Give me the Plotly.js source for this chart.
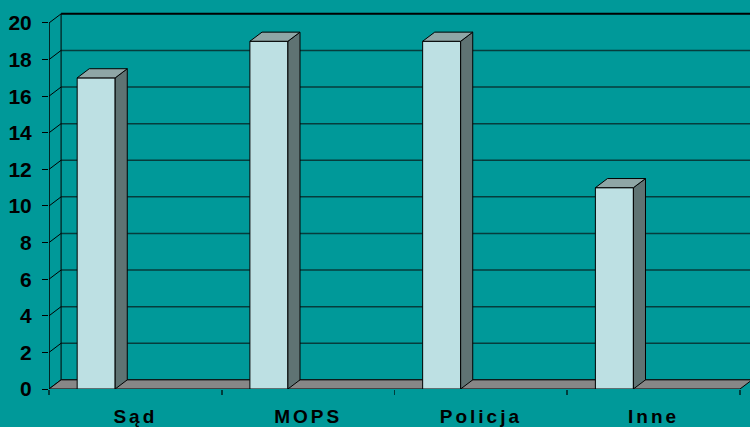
<!DOCTYPE html>
<html>
<head>
<meta charset="utf-8">
<script src="https://cdn.plot.ly/plotly-3.0.1.min.js"></script>
<style>
  html, body { margin: 0; padding: 0; background: #009999; }
  #chart { width: 750px; height: 427px; }
  .xtick text { letter-spacing: 3px; }
</style>
</head>
<body>
<div id="chart"></div>
<script>
// ---- data ----
const categories = ["Sąd", "MOPS", "Policja", "Inne"];
const values = [17, 19, 19, 11];
const yTicks = [0, 2, 4, 6, 8, 10, 12, 14, 16, 18, 20];

// ---- 3D look parameters (in axis units) ----
const depthX = 0.07;   // horizontal depth offset
const depthY = 0.5;    // vertical depth offset
const barShift = 0.273; // bar center within category
const barWidth = 0.22;
const xMax = 4.058;
const yMax = 20.6;

const frontColor = "#BDE0E3";
const topColor = "#8FA6A6";
const sideColor = "#5F7373";
const floorColor = "#878787";
const gridColor = "#063c3c";
const bg = "#009999";

const n = categories.length;
const centers = categories.map((c, i) => i + barShift);
const labelPos = categories.map((c, i) => i + 0.5);

const traces = [];
// front faces
traces.push({
  type: "bar",
  x: centers,
  y: values,
  width: barWidth,
  base: 0,
  marker: { color: frontColor, line: { color: "#000", width: 1 } },
  hoverinfo: "skip",
  showlegend: false
});
// side and top faces
values.forEach((v, i) => {
  const l = centers[i] - barWidth / 2, r = centers[i] + barWidth / 2;
  traces.push({
    type: "scatter", mode: "lines", fill: "toself",
    x: [r, r + depthX, r + depthX, r, r],
    y: [0, depthY, v + depthY, v, 0],
    fillcolor: sideColor, line: { color: "#000", width: 1 },
    hoverinfo: "skip", showlegend: false
  });
  traces.push({
    type: "scatter", mode: "lines", fill: "toself",
    x: [l, l + depthX, r + depthX, r, l],
    y: [v, v + depthY, v + depthY, v, v],
    fillcolor: topColor, line: { color: "#000", width: 1 },
    hoverinfo: "skip", showlegend: false
  });
});

const shapes = [];
// back-wall gridlines and side-wall diagonals
yTicks.forEach(t => {
  const top = t === yTicks[yTicks.length - 1];
  shapes.push({ type: "line", layer: "below", xref: "x", yref: "y",
    x0: depthX, y0: t + depthY, x1: xMax, y1: t + depthY,
    line: { color: top ? "#000" : gridColor, width: top ? 2 : 1.5 } });
  shapes.push({ type: "line", layer: "below", xref: "x", yref: "y",
    x0: 0, y0: t, x1: depthX, y1: t + depthY,
    line: { color: "#000", width: 1 } });
});
// back wall left edge
shapes.push({ type: "line", layer: "below", xref: "x", yref: "y",
  x0: depthX, y0: depthY, x1: depthX, y1: yTicks[yTicks.length - 1] + depthY,
  line: { color: "#000", width: 1 } });
// front axis line
shapes.push({ type: "line", layer: "below", xref: "x", yref: "y",
  x0: 0, y0: 0, x1: 0, y1: yTicks[yTicks.length - 1],
  line: { color: "#000", width: 1.5 } });
// floor
shapes.push({ type: "path", layer: "below", xref: "x", yref: "y",
  path: `M 0,0 L ${n},0 L ${n + depthX},${depthY} L ${depthX},${depthY} Z`,
  fillcolor: floorColor, line: { color: "#000", width: 1 } });

const layout = {
  width: 750, height: 427,
  margin: { l: 49, r: 0, t: 12, b: 38, pad: 0 },
  paper_bgcolor: bg, plot_bgcolor: bg,
  showlegend: false,
  bargap: 0,
  xaxis: {
    range: [0, xMax], showgrid: false, zeroline: false, showline: false,
    tickmode: "array", tickvals: labelPos, ticktext: categories,
    ticks: "", ticklabelstandoff: 14,
    tickfont: { family: "Liberation Sans, Arial, sans-serif", size: 19, color: "#000", weight: "bold" },
    minor: { tickmode: "array", tickvals: [0, 1, 2, 3, 4], ticks: "outside", ticklen: 5, tickcolor: "#003c3c", tickwidth: 1.5 },
    fixedrange: true
  },
  yaxis: {
    range: [0, yMax], showgrid: false, zeroline: false, showline: false,
    tickmode: "array", tickvals: yTicks,
    ticks: "outside", ticklen: 6, tickcolor: "#000", tickwidth: 1,
    ticklabelstandoff: 6,
    tickfont: { family: "Liberation Sans, Arial, sans-serif", size: 21, color: "#000", weight: "bold" },
    fixedrange: true
  },
  shapes: shapes
};

Plotly.newPlot("chart", traces, layout, { staticPlot: true });
</script>
</body>
</html>
